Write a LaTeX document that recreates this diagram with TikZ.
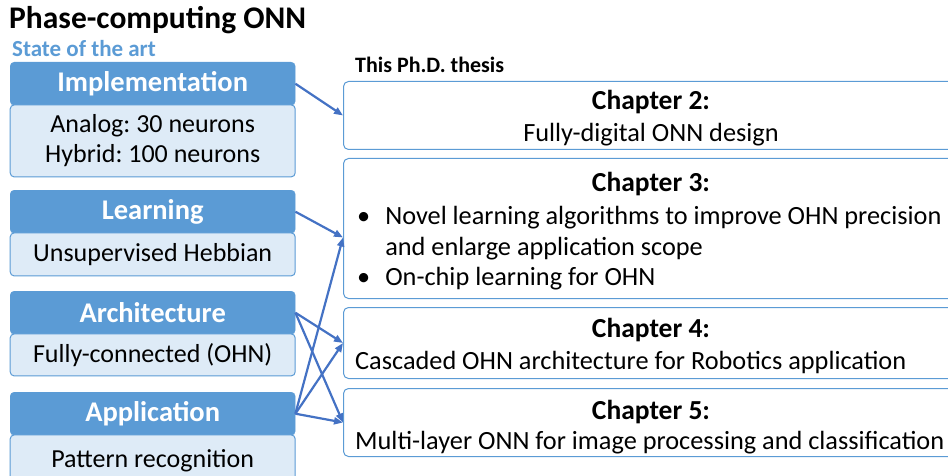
\documentclass[tikz,border=0pt]{standalone}
\usepackage{fontspec}
\setmainfont{Carlito}
\usetikzlibrary{calc}
\usetikzlibrary{positioning}
\usetikzlibrary{arrows.meta}

\definecolor{hdrblue}{HTML}{5B9BD5}
\definecolor{bodyblue}{HTML}{DEEBF7}
\definecolor{arrblue}{HTML}{4472C4}

\tikzset{
  hdr/.style={draw=hdrblue, fill=hdrblue, text=white, font=\fontsize{28.5}{32}\selectfont\bfseries,
    minimum width=285pt, minimum height=43pt, inner sep=0pt, rounded corners=4pt, anchor=north west},
  sotabody/.style={draw=hdrblue, line width=1pt, fill=bodyblue, font=\fontsize{26}{30}\selectfont,
    minimum width=285pt, inner sep=0pt, align=center, rounded corners=4pt},
  chap/.style={draw=hdrblue, line width=1pt, fill=white, minimum width=614pt,
    rounded corners=5pt, anchor=north west, inner sep=0pt},
  chtitle/.style={font=\fontsize{27.5}{31}\selectfont\bfseries, anchor=base, inner sep=0pt},
  chtext/.style={font=\fontsize{26.3}{31}\selectfont, inner sep=0pt},
  arr/.style={draw=arrblue, line width=2.2pt, -{Triangle[length=9pt,width=7pt]}},
}

\begin{document}
\frenchspacing
\begin{tikzpicture}[x=1pt,y=-1pt]
\clip (0,0) rectangle (948,476);

\node[anchor=base west, inner sep=0pt, font=\fontsize{31.5}{34}\selectfont\bfseries] (title) at (9,29) {Phase-computing ONN};
\node[anchor=base west, inner sep=0pt, text=hdrblue, font=\fontsize{23}{26}\selectfont\bfseries] (sota) at (12,57) {State of the art};
\node[anchor=base west, inner sep=0pt, font=\fontsize{22}{25}\selectfont\bfseries] (thesis) at (355,73) {This Ph.D. thesis};

% state of the art
\node[hdr] (impl) at (10,62) {Implementation};
\node[sotabody, minimum height=72pt, below=-1pt of impl] (implb) {Analog: 30 neurons\\Hybrid: 100 neurons};
\node[hdr] (learn) at (10,190) {Learning};
\node[sotabody, minimum height=43pt, below=-1pt of learn] (learnb) {Unsupervised Hebbian};
\node[hdr] (arch) at (10,291) {Architecture};
\node[sotabody, minimum height=42pt, below=-1pt of arch] (archb) {Fully-connected (OHN)};
\node[hdr] (appl) at (10,392) {Application};
\node[sotabody, minimum height=52pt, below=-1pt of appl] (applb) {Pattern recognition};

% chapters
\node[chap, minimum height=68pt] (ch2) at (343,81) {};
\node[chap, minimum height=140pt] (ch3) at (343,158) {};
\node[chap, minimum height=71pt] (ch4) at (343,307) {};
\node[chap, minimum height=68pt] (ch5) at (343,388) {};

\node[chtitle] (t2) at (651,110) {Chapter 2:};
\node[chtext, anchor=base] (x2) at (651,142) {Fully-digital ONN design};
\node[chtitle] (t3) at (651,192) {Chapter 3:};
\node[chtext, anchor=base west] (x3) at (357,224) {%
  \begin{tabular}[t]{@{}l@{\hspace{15pt}}l@{}}
  \textbullet & Novel learning algorithms to improve OHN precision\\
              & and enlarge application scope\\
  \textbullet & On-chip learning for OHN
  \end{tabular}};
\node[chtitle] (t4) at (651,337) {Chapter 4:};
\node[chtext, anchor=base west] (x4) at (355,369) {Cascaded OHN architecture for Robotics application};
\node[chtitle] (t5) at (651,419) {Chapter 5:};
\node[chtext, anchor=base west] (x5) at (355,449) {Multi-layer ONN for image processing and classification};

% links
\draw[arr] (impl.east) -- (ch2.west);
\draw[arr] (learn.east) -- ($(ch3.west)+(0,9)$);
\draw[arr] (appl.east) -- ($(ch3.west)+(0,9)$);
\draw[arr] (arch.east) -- (ch4.west);
\draw[arr] (arch.east) -- (ch5.west);
\draw[arr] (appl.east) -- (ch4.west);
\draw[arr] (appl.east) -- (ch5.west);
\end{tikzpicture}
\end{document}
